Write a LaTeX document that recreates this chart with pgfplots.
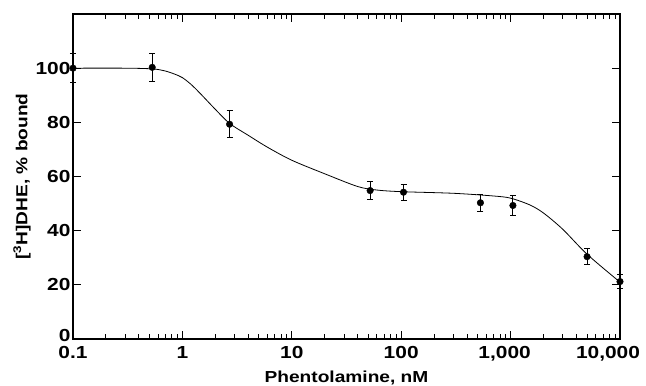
\documentclass[border=0pt]{standalone}
\usepackage{fontspec}
\setmainfont{Liberation Sans}[FakeStretch=1.2]
\usepackage{pgfplots}
\pgfplotsset{compat=1.18}
\begin{document}
\begin{tikzpicture}
\begin{axis}[
  scale only axis, width=547bp, height=325bp,
  xmode=log, xmin=0.1, xmax=10000, ymin=0, ymax=120,
  xtick={0.1,1,10,100,1000,10000},
  xticklabels={0.1,1,10,100,{\hspace*{-12bp}1,000},{\hspace*{-24bp}10,000}},
  minor xtick={0.2,0.3,0.4,0.5,0.6,0.7,0.8,0.9,2,3,4,5,6,7,8,9,20,30,40,50,60,70,80,90,200,300,400,500,600,700,800,900,2000,3000,4000,5000,6000,7000,8000,9000},
  ytick={0,20,40,60,80,100},
  yticklabels={\raisebox{7bp}{0},20,40,60,80,100},
  tick align=inside,
  major tick length=8bp, minor tick length=5bp,
  axis line style={line width=1.2bp},
  every tick/.style={black, line width=0.9bp},
  tick label style={font=\bfseries\fontsize{17.5}{19}\selectfont},
  xticklabel style={yshift=-4bp},
  yticklabel style={xshift=1bp},
  xlabel={Phentolamine, nM},
  ylabel={[\textsuperscript{3}H]DHE, \% bound},
  label style={font=\bfseries\fontsize{16}{18}\selectfont},
  xlabel style={yshift=-3bp},
  ylabel style={yshift=-2bp},
  clip=false,
]
\addplot[black, line width=0.8bp, smooth] coordinates {
(0.1,100) (0.3,100) (0.5,99.8) (0.6,99.5) (0.72,98.8) (0.85,97.8) (1,96.5) (1.2,94)
(1.46,90.6) (2,84.8) (2.7,79.6) (4,75.2) (6,70.8) (10,66) (20,61) (40,56.3) (60,55)
(100,54.4) (300,53.8) (700,52.8) (1000,52) (1500,49.5) (2000,46.5) (3000,40.5)
(5000,31.3) (10000,21)
};
\addplot[black, only marks, mark=*, mark size=3.3bp,
  error bars/.cd, y dir=both, y explicit,
  error bar style={line width=0.9bp}, error mark options={rotate=90, mark size=3bp, line width=0.9bp}]
coordinates {
(0.1,100) +- (0,5.3)
(0.53,100.3) +- (0,5.3)
(2.7,79.3) +- (0,5)
(52,54.8) +- (0,3.2)
(105,54.2) +- (0,2.9)
(530,50.3) +- (0,3.2)
(1050,49.3) +- (0,3.7)
(5000,30.4) +- (0,2.9)
(10000,21.2) +- (0,2.7)
};
\end{axis}
\pgfresetboundingbox
\path ([shift={(-73bp,-47bp)}]current axis.south west) rectangle ([shift={(26bp,14bp)}]current axis.north east);
\end{tikzpicture}
\end{document}
